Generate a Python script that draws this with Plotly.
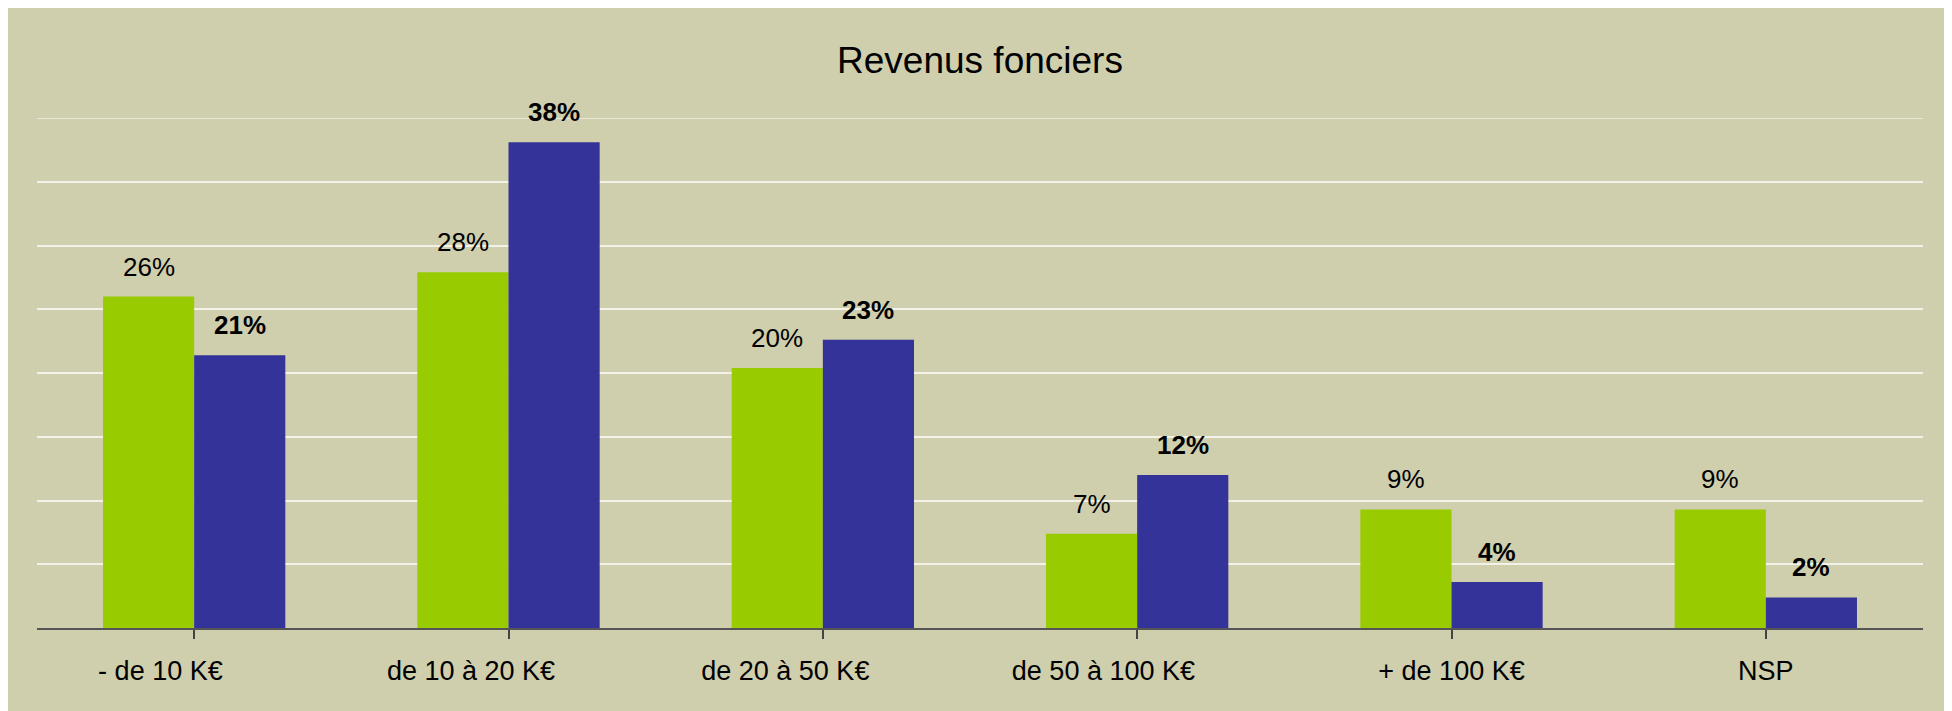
import plotly.graph_objects as go

categories = ["- de 10 K€", "de 10 à 20 K€", "de 20 à 50 K€", "de 50 à 100 K€", "+ de 100 K€", "NSP"]
series_green = [26.0, 27.9, 20.4, 7.4, 9.3, 9.3]
series_blue = [21.4, 38.1, 22.6, 12.0, 3.6, 2.4]
title_text = "Revenus fonciers"

BG = "#CFCEAD"
GREEN = "#99CC00"
BLUE = "#333399"
GRID = "#F2F2E8"
FONT = "Liberation Sans, Arial, sans-serif"
# page body has an 8px margin (gives the white strip top/left); figure overflows right/bottom
W, H = 1952, 711
ML, MR, MT, MB = 29, 37, 110, 91
BARGAP = 0.42
Y_MAX = 40
# the source labels carry trailing spaces, which pushes them left of the category centre
LABEL_PAD = [9, 10, 10, 9, 0, 0]

ticktext = [c + "\u00a0" * n for c, n in zip(categories, LABEL_PAD)]

fig = go.Figure()
fig.add_trace(go.Bar(x=list(range(len(categories))), y=series_green, marker_color=GREEN,
                     marker_line_width=0, name="A"))
fig.add_trace(go.Bar(x=list(range(len(categories))), y=series_blue, marker_color=BLUE,
                     marker_line_width=0, name="B"))

half = (1 - BARGAP) / 4
annotations = []
for i, v in enumerate(series_green):
    annotations.append(dict(x=i - half, y=v, xref="x", yref="y", text=f"{v:.0f}%",
                            showarrow=False, yanchor="bottom", yshift=13,
                            font=dict(family=FONT, size=26, color="black")))
for i, v in enumerate(series_blue):
    annotations.append(dict(x=i + half, y=v, xref="x", yref="y", text=f"<b>{v:.0f}%</b>",
                            showarrow=False, yanchor="bottom", yshift=13,
                            font=dict(family=FONT, size=26, color="black")))

pw = W - ML - MR

fig.update_layout(
    width=W, height=H,
    margin=dict(l=ML, r=MR, t=MT, b=MB),
    paper_bgcolor=BG, plot_bgcolor=BG,
    barmode="group", bargap=BARGAP, bargroupgap=0,
    showlegend=False,
    title=dict(text=title_text, x=(ML + pw / 2) / W, xanchor="center",
               y=1 - 52 / H, yanchor="middle", yref="container",
               font=dict(family=FONT, size=37, color="black")),
    annotations=annotations,
    shapes=[dict(type="line", xref="paper", yref="y", x0=0, x1=1, y0=Y_MAX, y1=Y_MAX,
                 line=dict(color=GRID, width=1.5), layer="below")],
    font=dict(family=FONT, color="black"),
)
fig.update_xaxes(
    tickmode="array", tickvals=list(range(len(categories))), ticktext=ticktext,
    range=[-0.5, len(categories) - 0.5],
    showline=True, linecolor="#555555", linewidth=1.5,
    ticks="outside", tickson="boundaries", ticklen=9, tickcolor="#444444", tickwidth=1.5,
    ticklabelstandoff=9,
    tickfont=dict(family=FONT, size=27, color="black"),
    showgrid=False, zeroline=False,
)
fig.update_yaxes(
    range=[0, Y_MAX], tickmode="array", tickvals=[5, 10, 15, 20, 25, 30, 35, 40],
    showticklabels=False, showgrid=True,
    gridcolor=GRID, gridwidth=1.5, zeroline=False, showline=False, ticks="",
)

fig.write_html("out.html")
